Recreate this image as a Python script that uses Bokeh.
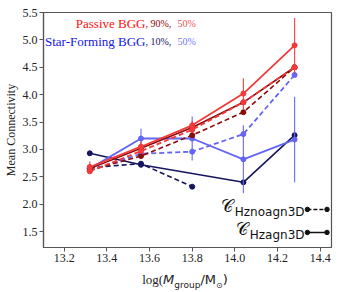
from bokeh.plotting import figure
from bokeh.models import Label, Range1d, FixedTicker, Div
from bokeh.layouts import column
from bokeh.embed import file_html
from bokeh.resources import INLINE

# ---- data ----
mass = [13.32, 13.56, 13.80, 14.04, 14.28]
pas50_agn = [2.68, 3.05, 3.44, 4.02, 4.90]
pas50_agn_err = [0.10, 0.10, 0.08, 0.28, 0.50]
pas90_agn = [2.65, 3.02, 3.40, 3.86, 4.50]
pas50_noagn = [2.60, 2.97, 3.36, 3.86, 4.50]
pas90_noagn = [2.62, 2.88, 3.26, 3.68, 4.50]
sf50_agn = [2.65, 3.20, 3.20, 2.82, 3.18]
sf50_agn_err = [0.08, 0.18, 0.40, 0.62, 0.78]
sf50_noagn = [2.62, 2.92, 2.96, 3.28, 4.36]
sf10_agn_mass = [13.32, 13.56, 14.04, 14.28]
sf10_agn = [2.93, 2.72, 2.40, 3.26]
sf10_noagn_mass = [13.32, 13.56, 13.80]
sf10_noagn = [2.67, 2.74, 2.32]

x_ticks = [13.2, 13.4, 13.6, 13.8, 14.0, 14.2, 14.4]
y_ticks = [1.5, 2.0, 2.5, 3.0, 3.5, 4.0, 4.5, 5.0, 5.5]
X_LO, X_HI = 13.103, 14.453
Y_LO, Y_HI = 1.21, 5.5

RED = "#f23a3a"
DARKRED = "#8b0a0a"
BLUE = "#6565f5"
NAVY = "#16165e"
SERIF = "Liberation Serif"
SANS = "DejaVu Sans"

p = figure(width=342, height=270, output_backend="svg", toolbar_location=None,
           x_range=Range1d(X_LO, X_HI), y_range=Range1d(Y_LO, Y_HI),
           min_border_left=38, min_border_right=11, min_border_top=12,
           min_border_bottom=23, margin=(0, 0, 0, 0))
p.xgrid.visible = False
p.ygrid.visible = False
p.outline_line_color = "#555555"
p.outline_line_width = 1.2

for axes in (p.xaxis, p.yaxis):
    axes.axis_line_color = "#555555"
    axes.axis_line_width = 1.2
    axes.major_tick_line_color = "#555555"
    axes.major_tick_out = 4
    axes.major_tick_in = 0
    axes.minor_tick_line_color = None
    axes.major_label_text_font = SERIF
    axes.major_label_text_font_size = "12px"
    axes.major_label_text_color = "#222222"
    axes.major_label_standoff = 2
p.xaxis.ticker = FixedTicker(ticks=x_ticks)
p.yaxis.ticker = FixedTicker(ticks=y_ticks)
p.xaxis.major_label_overrides = {t: f"{t:.1f}" for t in x_ticks}
p.yaxis.major_label_overrides = {t: f"{t:.1f}" for t in y_ticks}
p.yaxis.axis_label = "Mean Connectivity"
p.yaxis.axis_label_text_font = SERIF
p.yaxis.axis_label_text_font_style = "normal"
p.yaxis.axis_label_text_font_size = "12px"
p.yaxis.axis_label_text_color = "#222222"
p.yaxis.axis_label_standoff = 2


def series(xs, ys, color, dash, width):
    p.line(xs, ys, line_color=color, line_width=width, line_dash=dash)
    p.scatter(xs, ys, size=5, fill_color=color, line_color=color)


def errs(xs, ys, es, color):
    p.segment(x0=xs, y0=[y - e for y, e in zip(ys, es)],
              x1=xs, y1=[y + e for y, e in zip(ys, es)],
              line_color=color, line_width=1.2, line_alpha=0.9)


# star-forming
series(sf10_noagn_mass, sf10_noagn, NAVY, "5 3", 1.6)
series(sf10_agn_mass, sf10_agn, NAVY, "solid", 1.6)
series(mass, sf50_noagn, BLUE, "5 3", 1.8)
errs(mass, sf50_agn, sf50_agn_err, BLUE)
series(mass, sf50_agn, BLUE, "solid", 1.8)
# passive
series(mass, pas90_noagn, DARKRED, "5 3", 1.6)
series(mass, pas90_agn, DARKRED, "solid", 1.6)
series(mass, pas50_noagn, RED, "5 3", 1.8)
errs(mass, pas50_agn, pas50_agn_err, RED)
series(mass, pas50_agn, RED, "solid", 1.8)


def lab(text, x, y, color="#222222", size="12px", font=SERIF, align="left",
        baseline="middle", style="normal"):
    p.add_layout(Label(x=x, y=y, x_units="screen", y_units="screen", text=text,
                       text_color=color, text_font_size=size, text_font=font,
                       text_align=align, text_baseline=baseline,
                       text_font_style=style))


# top legend
lab("Passive BGG", 102, 224, color="#ff1010", size="13px", align="right")
lab(" , 90%,", 102, 224, color=DARKRED, size="10px")
lab("50%", 134, 224, color="#f05555", size="10px")
lab("Star-Forming BGG", 102, 206, color="#1515ee", size="13px", align="right")
lab(" , 10%,", 102, 206, color=NAVY, size="10px")
lab("50%", 134, 206, color="#7777ff", size="10px")

# bottom-right legend
lab("\U0001D49E", 189, 41, size="17px", font=SERIF, align="right", color="#111111")
lab("Hznoagn3D", 261, 36, size="12px", font=SANS, align="right", color="#111111")
lab("\U0001D49E", 204, 18, size="17px", font=SERIF, align="right", color="#111111")
lab("Hzagn3D", 261, 13, size="12px", font=SANS, align="right", color="#111111")
lx0, lx1 = X_HI - 0.113, X_HI - 0.021
ly_dash, ly_solid = 1.905, 1.485
p.line([lx0, lx1], [ly_dash, ly_dash], line_color="#111111", line_width=1.4,
       line_dash="4 2")
p.scatter([lx0, lx1], [ly_dash, ly_dash], size=4.5, color="#111111")
p.line([lx0, lx1], [ly_solid, ly_solid], line_color="#111111", line_width=1.4)
p.scatter([lx0, lx1], [ly_solid, ly_solid], size=4.5, color="#111111")

# x axis label (mixed fonts)
xlabel = Div(
    text=('<div style="width:342px;text-align:center;padding-left:28px;'
          'box-sizing:border-box;font-size:13px;line-height:20px;color:#222;'
          'font-family:\'DejaVu Sans\';white-space:nowrap">'
          '<span style="font-family:\'Liberation Serif\'">log(</span>'
          '<i>M</i><sub style="font-size:9px">group</sub>/M'
          '<sub style="font-size:8px">\u2299</sub>)</div>'),
    width=342, height=22, margin=(0, 0, 0, 0))

layout = column(p, xlabel, spacing=0, margin=(0, 0, 0, 0))
open("out.html", "w").write(file_html(layout, INLINE))
